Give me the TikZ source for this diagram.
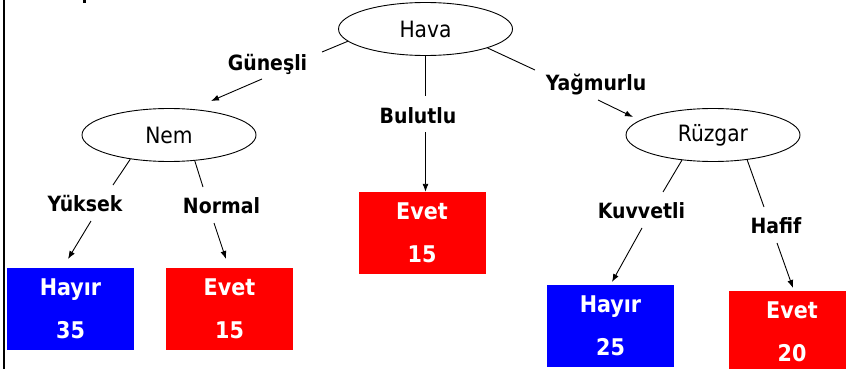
\documentclass[tikz,border=0pt]{standalone}
\usepackage{fontspec}
\setmainfont{DejaVu Sans Condensed}
\usetikzlibrary{arrows.meta,shapes.geometric}
\definecolor{leafblue}{RGB}{0,0,255}
\definecolor{leafred}{RGB}{255,0,0}
\begin{document}
\begin{tikzpicture}[x=1pt,y=-1pt,
  oval/.style={ellipse,draw,line width=0.9pt,minimum width=174pt,minimum height=53pt,inner sep=0pt,font=\fontsize{22.5}{26}\selectfont},
  lbl/.style={anchor=base,inner sep=0pt,font=\bfseries\fontsize{21}{25}\selectfont},
  leaf/.style={rectangle,minimum width=127pt,minimum height=82pt,inner sep=0pt,text=white,align=center,font=\bfseries\fontsize{23}{43}\selectfont},
  edge/.style={line width=0.9pt},
  arr/.style={line width=0.9pt,-{Latex[length=8pt,width=6pt]}}]
\path[use as bounding box] (0,0) rectangle (846,369);
\fill[white] (0,0) rectangle (846,369);
\clip (0,0) rectangle (846,369);
% left border and clipped mark at top
\draw[line width=2pt] (4,0) -- (4,369);
\fill (83,0) rectangle (86,3);
% decision nodes
\node[oval] (hava) at (425.5,29) {Hava};
\node[oval] (nem) at (169,135) {Nem};
\node[oval] (ruz) at (713,135) {Rüzgar};
% branch labels
\node[lbl] (gun) at (267.5,70.5) {Güneşli};
\node[lbl] (bul) at (418,123) {Bulutlu};
\node[lbl] (yag) at (596,90) {Yağmurlu};
\node[lbl] (yuk) at (85,211.5) {Yüksek};
\node[lbl] (nor) at (221.5,213) {Normal};
\node[lbl] (kuv) at (641.5,218) {Kuvvetli};
\node[lbl] (haf) at (776,233) {Hafif};
% leaves
\node[leaf,fill=leafblue] (h35) at (70.5,309) {Hayır\\35};
\node[leaf,fill=leafred] (e15a) at (229.5,309) {Evet\\15};
\node[leaf,fill=leafred] (e15b) at (422,233) {Evet\\15};
\node[leaf,fill=leafblue] (h25) at (610.5,326) {Hayır\\25};
\node[leaf,fill=leafred] (e20) at (792,332) {Evet\\20};
% connector points beside the labels
\coordinate (gunL) at (322,52);
\coordinate (gunA) at (262,79);
\coordinate (gunT) at (211,101);
\coordinate (bulL) at (425.5,96);
\coordinate (bulA) at (425.5,132);
\coordinate (yagL) at (535,70);
\coordinate (yagA) at (598,100);
\coordinate (yagT) at (633,117);
\coordinate (yukL) at (113,185);
\coordinate (yukA) at (91,221);
\coordinate (yukT) at (68,259);
\coordinate (norL) at (203,187);
\coordinate (norA) at (214,223);
\coordinate (norT) at (226,259);
\coordinate (kuvL) at (663,192);
\coordinate (kuvA) at (642,228);
\coordinate (kuvT) at (612,282);
\coordinate (hafL) at (764,207);
\coordinate (hafA) at (777,243);
\coordinate (hafT) at (793,288);
% connectors
\draw[edge] (hava.189) -- (gunL);
\draw[arr] (gunA) -- (gunT);
\draw[edge] (hava.south) -- (bulL);
\draw[arr] (bulA) -- (bulA |- e15b.north);
\draw[edge] (hava.343) -- (yagL);
\draw[arr] (yagA) -- (yagT);
\draw[edge] (nem.212) -- (yukL);
\draw[arr] (yukA) -- (yukT);
\draw[edge] (nem.315) -- (norL);
\draw[arr] (norA) -- (norT);
\draw[edge] (ruz.219) -- (kuvL);
\draw[arr] (kuvA) -- (kuvT);
\draw[edge] (ruz.324) -- (hafL);
\draw[arr] (hafA) -- (hafT);
\end{tikzpicture}
\end{document}
